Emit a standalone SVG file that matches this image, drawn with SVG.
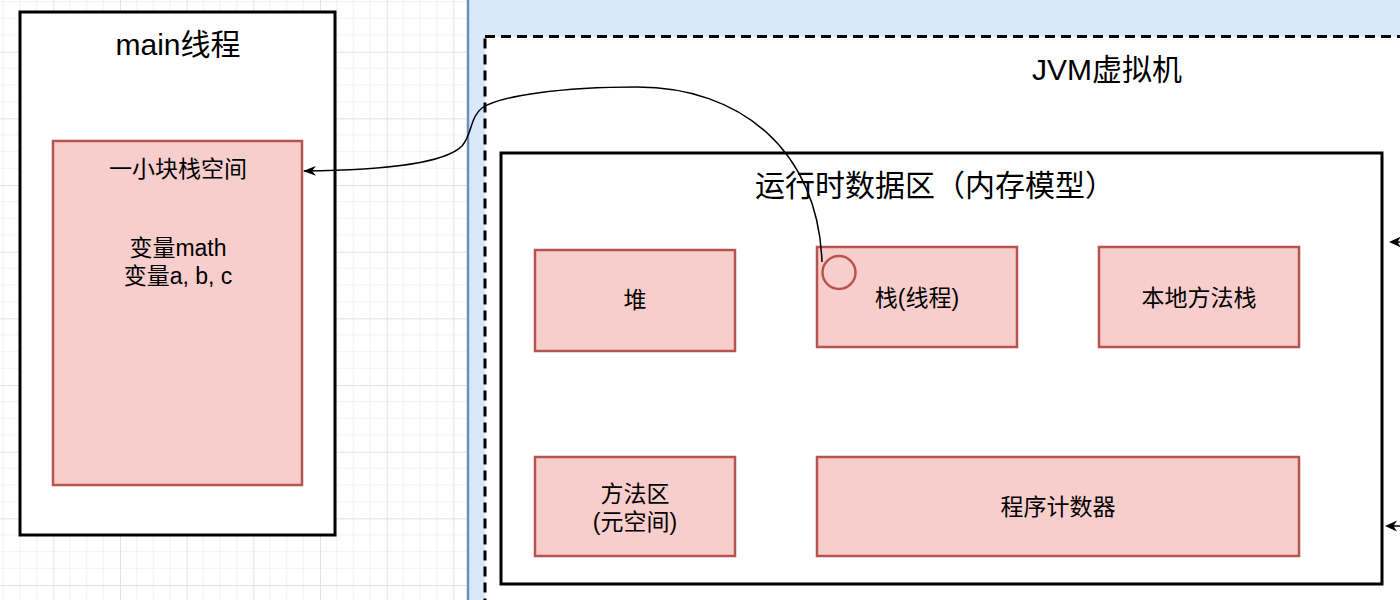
<svg xmlns="http://www.w3.org/2000/svg" width="1400" height="600" viewBox="0 0 1400 600">
<style>
.t{font-family:"Liberation Sans","Noto Sans CJK SC",sans-serif;fill:#000;text-anchor:middle}
.big{font-size:30px}
.sm{font-size:23px}
.pink{fill:#f8cecc;stroke:#b85450;stroke-width:2.5}
.box{fill:#fff;stroke:#000;stroke-width:3}
.edge{fill:none;stroke:#000;stroke-width:1.5}
.head{fill:#000;stroke:none}
</style>
<defs>
<pattern id="grid" patternUnits="userSpaceOnUse" x="53.33" y="51.67" width="66.67" height="66.67">
<path d="M16.67 0V66.67M33.33 0V66.67M50 0V66.67M0 16.67H66.67M0 33.33H66.67M0 50H66.67" stroke="#f1f1f1" stroke-width="1" fill="none"/>
<path d="M0.5 0V66.67M0 0.5H66.67" stroke="#e2e2e2" stroke-width="1" fill="none"/>
</pattern>
<marker id="arr" viewBox="0 0 12 10" refX="11" refY="5" markerWidth="13" markerHeight="11" markerUnits="userSpaceOnUse" orient="auto">
<path d="M0 0.5L12 5L0 9.5L3.5 5Z" fill="#000"/>
</marker>
</defs>
<rect x="0" y="0" width="1400" height="600" fill="#fff"/>
<rect x="0" y="0" width="1400" height="600" fill="url(#grid)"/>
<g id="jvm-panel">
<rect x="468" y="-10" width="950" height="620" fill="#dae8fc" stroke="#6c8ebf" stroke-width="2.5"/>
</g>
<g id="jvm">
<rect x="485" y="36.5" width="950" height="600" fill="#fff" stroke="#000" stroke-width="3" stroke-dasharray="10 6"/>
<text class="t big" x="1107" y="80">JVM虚拟机</text>
</g>
<g id="main-thread">
<rect class="box" x="20" y="12" width="315" height="523"/>
<text class="t big" x="178" y="55">main线程</text>
</g>
<g id="stack-space">
<rect class="pink" x="53" y="141" width="249" height="344"/>
<text class="t sm" x="178" y="177">一小块栈空间</text>
<text class="t sm" x="178" y="256">变量math</text>
<text class="t sm" x="178" y="284">变量a, b, c</text>
</g>
<g id="runtime">
<rect class="box" x="501" y="153" width="881" height="431"/>
<text class="t big" x="935" y="196">运行时数据区（内存模型）</text>
</g>
<g id="heap">
<rect class="pink" x="535" y="250" width="200" height="101"/>
<text class="t sm" x="635" y="308">堆</text>
</g>
<g id="stack">
<rect class="pink" x="817" y="247" width="200" height="100"/>
<text class="t sm" x="917" y="306">栈(线程)</text>
</g>
<g id="native-stack">
<rect class="pink" x="1099" y="247" width="200" height="100"/>
<text class="t sm" x="1199" y="306">本地方法栈</text>
</g>
<g id="method-area">
<rect class="pink" x="535" y="457" width="200" height="99"/>
<text class="t sm" x="635" y="502">方法区</text>
<text class="t sm" x="635" y="530">(元空间)</text>
</g>
<g id="pc">
<rect class="pink" x="817" y="457" width="482" height="99"/>
<text class="t sm" x="1058" y="515">程序计数器</text>
</g>
<g id="connectors">
<path class="edge" d="M822 262C818 150 740 87 637 87C560 87 500 96 482 108C470 117 472 135 462 146C445 163 390 170 304 171" marker-end="url(#arr)"/>
<path class="edge" d="M1400 242L1396 242"/>
<path class="head" d="M1389 242L1401 236.5L1397.5 242L1401 247.5Z"/>
<path class="edge" d="M1400 526L1392 526"/>
<path class="head" d="M1385 526L1397 520.5L1393.5 526L1397 531.5Z"/>
</g>
<g id="stack-port">
<circle cx="839" cy="272.5" r="16.5" fill="#f8cecc" stroke="#b85450" stroke-width="2.5"/>
</g>
</svg>
